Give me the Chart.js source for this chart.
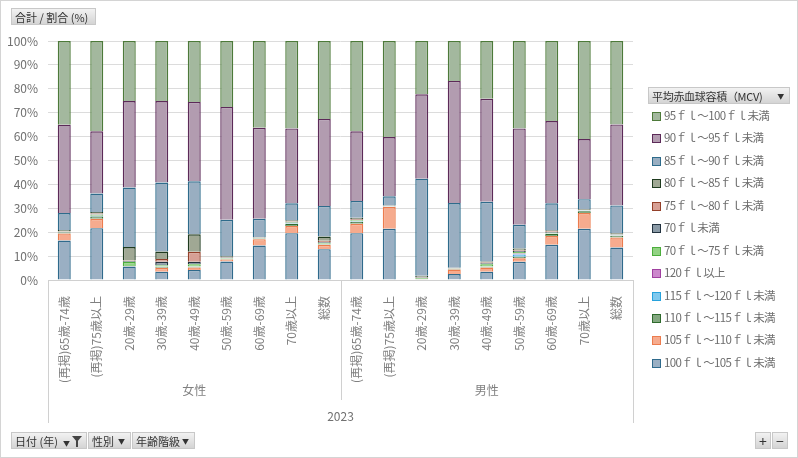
<!DOCTYPE html>
<html lang="ja">
<head>
<meta charset="utf-8">
<script src="https://cdn.jsdelivr.net/npm/chart.js@4.4.1/dist/chart.umd.min.js"></script>
<style>
  html, body { margin: 0; padding: 0; background: #fff; }
  body { font-family: "Noto Sans CJK JP", "Noto Sans", sans-serif; }
  #wrap { position: relative; width: 798px; height: 458px; box-sizing: border-box; border: 1px solid #d4d4d4; overflow: hidden; }
  #chart { position: absolute; left: -1px; top: -1px; }
  .btn { position: absolute; height: 17px; line-height: 16px; font-size: 11px; color: #333;
         background: linear-gradient(#f2f2f2, #d4d4d4); border: 1px solid #c8c8c8; box-sizing: border-box; padding: 0 3px; white-space: nowrap; }
  .arrow { font-size: 7px; color: #333; position: absolute; right: 5px; top: 0; }
  .funnel { position: absolute; right: 4px; top: 3px; width: 0; height: 0;
            border-left: 5px solid transparent; border-right: 5px solid transparent; border-top: 6px solid #444; }
  .funnel::after { content: ""; position: absolute; left: -1px; top: -1px; width: 2px; height: 6px; background: #444; }
  #legend { position: absolute; left: 651px; top: 103px; }
  .item { height: 22.45px; line-height: 22px; font-size: 11.5px; color: #6e6e6e; white-space: nowrap; letter-spacing: -0.6px; }
  .sw { display: inline-block; width: 7px; height: 7px; border: 1px solid; margin-right: 3px; vertical-align: -1px; }
</style>
</head>
<body>
<div id="wrap">
  <canvas id="chart" width="798" height="458"></canvas>
  <div class="btn" style="left:10px; top:7px; width:85px;">合計 / 割合 (%)</div>
  <div class="btn" style="left:647px; top:86px; width:142px; letter-spacing:-0.3px;">平均赤血球容積（MCV)<span class="arrow">▼</span></div>
  <div id="legend"></div>
  <div class="btn" style="left:10px; top:431px; width:76px;">日付 (年)<span class="arrow" style="right:16px;top:2px;">▼</span><span class="funnel"></span></div>
  <div class="btn" style="left:87px; top:431px; width:43px;">性別<span class="arrow">▼</span></div>
  <div class="btn" style="left:131px; top:431px; width:63px;">年齢階級<span class="arrow">▼</span></div>
  <div class="btn" style="left:754px; top:431px; width:16px; padding:0; text-align:center; font-size:14px;">+</div>
  <div class="btn" style="left:771px; top:431px; width:16px; padding:0; text-align:center; font-size:14px;">−</div>
</div>
<script>
const ageLabels = ["(再掲)65歳-74歳", "(再掲)75歳以上", "20歳-29歳", "30歳-39歳", "40歳-49歳",
  "50歳-59歳", "60歳-69歳", "70歳以上", "総数"];
const sexLabels = ["女性", "男性"];
const yearLabel = "2023";
const categories = sexLabels.flatMap(() => ageLabels);
const yTicks = [0, 10, 20, 30, 40, 50, 60, 70, 80, 90, 100];

// 積み上げ順（下から）
const s100to105 = [16.5, 21.7, 5.6, 3.5, 4.2, 7.7, 14.4, 19.6, 12.9, 19.6, 21.4, 0.3, 2.5, 3.5, 7.6, 14.7, 21.4, 13.6];
const s105to110 = [3.0, 3.9, 0.2, 1.6, 1.0, 0.9, 2.7, 3.0, 1.8, 3.9, 9.1, 0.1, 1.9, 1.7, 1.5, 3.7, 6.6, 4.2];
const s110to115 = [0.4, 1.0, 0.1, 0.4, 0.3, 0.3, 0.3, 0.8, 0.3, 0.9, 0.2, 0.1, 0.2, 0.3, 0.6, 0.8, 0.8, 0.7];
const s115to120 = [0.1, 0.2, 0.0, 0.1, 0.1, 0.1, 0.1, 0.2, 0.1, 0.2, 0.1, 0.0, 0.0, 0.1, 1.0, 0.2, 0.2, 0.1];
const s120up    = [0.0, 0.1, 0.0, 0.1, 0.1, 0.0, 0.0, 0.1, 0.0, 0.1, 0.0, 0.0, 0.0, 0.0, 0.4, 0.1, 0.1, 0.1];
const s70to75   = [0.2, 0.4, 1.7, 0.5, 0.9, 0.2, 0.1, 0.4, 0.3, 0.3, 0.0, 0.3, 0.1, 1.0, 0.6, 0.3, 0.1, 0.2];
const s70under  = [0.1, 0.2, 0.3, 1.4, 1.0, 0.2, 0.1, 0.2, 0.4, 0.2, 0.1, 0.2, 0.1, 0.4, 0.5, 0.3, 0.1, 0.2];
const s75to80   = [0.2, 0.3, 0.3, 1.2, 4.2, 0.2, 0.1, 0.2, 0.6, 0.3, 0.1, 0.3, 0.1, 0.3, 0.4, 0.3, 0.1, 0.2];
const s80to85   = [0.4, 0.6, 5.6, 3.1, 7.3, 0.3, 0.2, 0.5, 1.8, 0.5, 0.2, 0.5, 0.2, 0.4, 0.6, 0.4, 0.3, 0.4];
const s85to90   = [7.1, 7.8, 24.9, 28.9, 22.2, 15.3, 7.6, 7.1, 12.8, 7.1, 3.8, 40.6, 27.1, 25.0, 9.9, 11.3, 4.1, 11.5];
const s90to95   = [37.0, 26.0, 36.2, 34.1, 33.2, 47.2, 38.1, 31.3, 36.4, 29.1, 24.8, 35.3, 51.1, 43.1, 40.3, 34.4, 25.2, 33.9];
const s95to100  = [35.0, 37.8, 25.1, 25.1, 25.5, 27.6, 36.3, 36.6, 32.6, 37.8, 40.2, 22.3, 16.7, 24.2, 36.6, 33.5, 41.0, 34.9];

const series = [
  { label: "100ｆｌ～105ｆｌ未満", data: s100to105, fill: "#9aafc3", line: "#2f6a8c" },
  { label: "105ｆｌ～110ｆｌ未満", data: s105to110, fill: "#f6ab8e", line: "#ec7c4e" },
  { label: "110ｆｌ～115ｆｌ未満", data: s110to115, fill: "#83a880", line: "#2e6a2c" },
  { label: "115ｆｌ～120ｆｌ未満", data: s115to120, fill: "#80c9ee", line: "#27a2dc" },
  { label: "120ｆｌ以上",         data: s120up,    fill: "#cc88cc", line: "#a040a0" },
  { label: "70ｆｌ～75ｆｌ未満",   data: s70to75,   fill: "#92d283", line: "#4cae3c" },
  { label: "70ｆｌ未満",           data: s70under,  fill: "#8a9aa6", line: "#22323f" },
  { label: "75ｆｌ～80ｆｌ未満",   data: s75to80,   fill: "#d7a095", line: "#94402a" },
  { label: "80ｆｌ～85ｆｌ未満",   data: s80to85,   fill: "#a0a894", line: "#1f3b1f" },
  { label: "85ｆｌ～90ｆｌ未満",   data: s85to90,   fill: "#99aec1", line: "#2e6b8b" },
  { label: "90ｆｌ～95ｆｌ未満",   data: s90to95,   fill: "#b29cb0", line: "#5c2a58" },
  { label: "95ｆｌ～100ｆｌ未満",  data: s95to100,  fill: "#a3b89e", line: "#4d7a3a" },
];

// 凡例（上から：積み上げの逆順）
const legendEl = document.getElementById("legend");
series.slice().reverse().forEach((s) => {
  const row = document.createElement("div");
  row.className = "item";
  const sw = document.createElement("span");
  sw.className = "sw";
  sw.style.background = s.fill;
  sw.style.borderColor = s.line;
  row.appendChild(sw);
  row.appendChild(document.createTextNode(s.label));
  legendEl.appendChild(row);
});

const FONT = '"Noto Sans CJK JP", "Noto Sans", sans-serif';

// 性別・年の見出しと区切り線
const groupLabels = {
  id: "groupLabels",
  afterDraw(chart) {
    const { ctx, scales: { x } } = chart;
    const n = ageLabels.length;
    const top = x.top;
    ctx.save();
    ctx.strokeStyle = "#d0d0d0";
    ctx.lineWidth = 1;
    const mid = (x.getPixelForValue(n - 1) + x.getPixelForValue(n)) / 2;
    [[x.left, top + 143], [mid, top + 120], [x.right, top + 143]].forEach(([px, bottom]) => {
      ctx.beginPath();
      ctx.moveTo(Math.round(px) + 0.5, top);
      ctx.lineTo(Math.round(px) + 0.5, bottom);
      ctx.stroke();
    });
    ctx.font = "12px " + FONT;
    ctx.fillStyle = "#808080";
    ctx.textAlign = "center";
    ctx.textBaseline = "middle";
    sexLabels.forEach((s, g) => {
      const cx = (x.getPixelForValue(g * n) + x.getPixelForValue(g * n + n - 1)) / 2;
      ctx.fillText(s, cx, top + 110);
    });
    ctx.fillStyle = "#707070";
    ctx.fillText(yearLabel, (x.getPixelForValue(0) + x.getPixelForValue(categories.length - 1)) / 2, top + 136);
    ctx.restore();
  },
};

new Chart(document.getElementById("chart"), {
  type: "bar",
  data: {
    labels: categories,
    datasets: series.map((s) => ({
      label: s.label,
      data: s.data,
      backgroundColor: s.fill,
      borderColor: s.line,
      borderWidth: 1.4,
      barPercentage: 0.4,
      categoryPercentage: 1.0,
    })),
  },
  options: {
    responsive: false,
    animation: false,
    devicePixelRatio: 1,
    layout: { padding: { left: 0, top: 41, right: 165, bottom: 0 } },
    plugins: {
      legend: { display: false },
      tooltip: { enabled: false },
    },
    scales: {
      x: {
        stacked: true,
        afterFit: (scale) => { scale.height = 178; },
        grid: { display: false },
        border: { display: true, color: "#d0d0d0" },
        ticks: {
          autoSkip: false,
          minRotation: 90,
          maxRotation: 90,
          padding: 8,
          color: "#808080",
          font: { family: FONT, size: 12 },
        },
      },
      y: {
        stacked: true,
        min: 0,
        max: 100,
        afterFit: (scale) => { scale.width = 48; },
        afterBuildTicks: (scale) => { scale.ticks = yTicks.map((v) => ({ value: v })); },
        grid: { color: "#dcdcdc", drawTicks: false },
        border: { display: false },
        ticks: {
          padding: 10,
          color: "#707070",
          font: { family: FONT, size: 12 },
          callback: (v) => v + "%",
        },
      },
    },
  },
  plugins: [groupLabels],
});
</script>
</body>
</html>
